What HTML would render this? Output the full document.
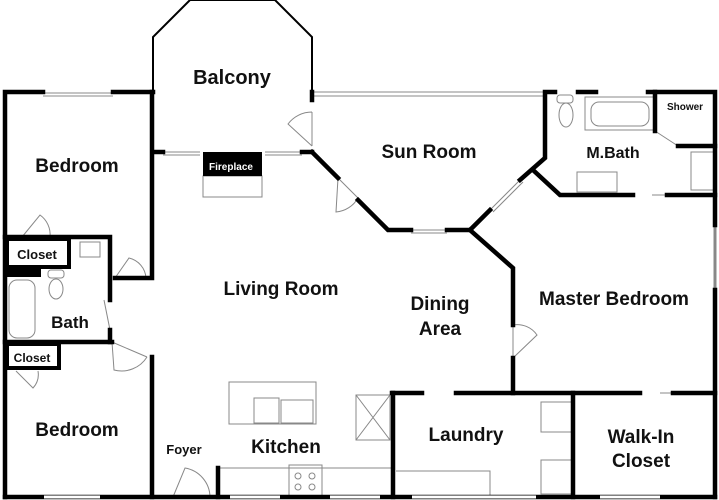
<!DOCTYPE html>
<html><head><meta charset="utf-8"><style>
html,body{margin:0;padding:0;background:#fff;}
svg{display:block;}
text{font-family:"Liberation Sans",sans-serif;font-weight:bold;fill:#111;text-anchor:middle;}
</style></head><body>
<svg width="719" height="500" viewBox="0 0 719 500" xmlns="http://www.w3.org/2000/svg">
<g fill="none" stroke="#888" stroke-width="1">
<!-- balcony -->
<polyline points="153,152 153,37 190,0 275,0 312,37 312,92" stroke="#000" stroke-width="2"/>
<line x1="312" y1="92" x2="545" y2="92"/><line x1="312" y1="96" x2="545" y2="96"/>
<line x1="43" y1="93" x2="113" y2="93"/><line x1="43" y1="96" x2="113" y2="96"/>
<line x1="163" y1="152" x2="200" y2="152"/><line x1="163" y1="155" x2="200" y2="155"/>
<line x1="265" y1="152" x2="302" y2="152"/><line x1="265" y1="155" x2="302" y2="155"/>
<rect x="203" y="176" width="59" height="21"/>
<path d="M312,112 v34 M312,146 L288,124 A30,30 0 0 1 312,112"/>
<path d="M338,178 L358,198 M358,198 A28,28 0 0 1 336,212 L338,178"/>
<line x1="411" y1="230" x2="447" y2="230"/><line x1="411" y1="233" x2="447" y2="233"/>
<line x1="490" y1="210" x2="520" y2="180"/><line x1="493" y1="212" x2="523" y2="182"/>
<line x1="652" y1="195" x2="667" y2="195"/>
<line x1="655" y1="131" x2="678" y2="146"/>
<line x1="715" y1="225" x2="715" y2="290" stroke-width="3"/>
<line x1="660" y1="393" x2="673" y2="393"/>
<path d="M513,325 v33 M513,358 L537,335 A24,24 0 0 0 513,325"/>
<!-- bath fixtures -->
<rect x="9" y="280" width="26" height="58" rx="8"/>
<ellipse cx="56" cy="289" rx="7" ry="10"/><rect x="48" y="270" width="16" height="8" rx="3"/>
<rect x="80" y="242" width="20" height="15"/>
<ellipse cx="566" cy="115" rx="7" ry="12"/><rect x="557" y="95" width="16" height="8" rx="3"/>
<rect x="585" y="97" width="70" height="33"/><rect x="591" y="102" width="58" height="24" rx="8"/>
<rect x="577" y="172" width="40" height="20"/><rect x="691" y="152" width="24" height="38"/>
<!-- doors -->
<path d="M22,237 L40,215 A24,24 0 0 1 50,237"/>
<path d="M115,278 L129,258 A22,22 0 0 1 146,278"/>
<path d="M104,300 L110,330"/>
<path d="M112,342 L147,357 M112,342 L114,370 A30,30 0 0 0 147,357"/>
<path d="M16,371 L33,388 A20,20 0 0 0 38,371"/>
<path d="M173,497 L185,468 A30,30 0 0 1 210,497"/>
<!-- kitchen -->
<rect x="229" y="382" width="87" height="42"/>
<rect x="254" y="398" width="25" height="25"/><rect x="281" y="400" width="32" height="23"/>
<line x1="218" y1="468" x2="393" y2="468"/>
<rect x="289" y="465" width="33" height="32"/>
<circle cx="298" cy="476" r="3"/><circle cx="312" cy="476" r="3"/><circle cx="298" cy="487" r="3"/><circle cx="312" cy="487" r="3"/>
<rect x="356" y="395" width="34" height="45"/><path d="M356,395 L390,440 M390,395 L356,440"/>
<!-- laundry -->
<polyline points="396,471 490,471 490,497"/>
<rect x="541" y="402" width="32" height="30"/><rect x="541" y="460" width="32" height="34"/>
<line x1="412" y1="497" x2="536" y2="497"/>
</g>
<g fill="#000">
<rect x="203" y="152" width="59" height="24"/>
</g>
<g stroke="#000" stroke-width="4.5" fill="none" stroke-linecap="square">
<polyline points="5,497 5,92 43,92"/>
<line x1="113" y1="92" x2="153" y2="92"/>
<polyline points="152,92 152,278 115,278"/>
<line x1="153" y1="152" x2="163" y2="152"/><line x1="302" y1="152" x2="312" y2="152"/>
<line x1="312" y1="92" x2="312" y2="100"/>
<polyline points="312,152 338,178"/>
<polyline points="358,200 388,230 411,230"/>
<polyline points="447,230 470,230 490,210"/>
<polyline points="520,180 545,158 545,92 555,92"/>
<line x1="578" y1="92" x2="596" y2="92"/>
<polyline points="648,92 715,92 715,225"/>
<line x1="715" y1="290" x2="715" y2="497"/>
<line x1="655" y1="92" x2="655" y2="131"/>
<line x1="678" y1="146" x2="715" y2="146"/>
<polyline points="533,170 560,195 633,195"/>
<line x1="667" y1="195" x2="715" y2="195"/>
<polyline points="470,230 513,268 513,325"/>
<line x1="513" y1="358" x2="513" y2="393"/>
<line x1="392" y1="393" x2="422" y2="393"/>
<line x1="456" y1="393" x2="640" y2="393"/>
<line x1="673" y1="393" x2="715" y2="393"/>
<line x1="393" y1="393" x2="393" y2="497"/>
<line x1="573" y1="393" x2="573" y2="497"/>
<line x1="5" y1="497" x2="715" y2="497"/>
<line x1="218" y1="468" x2="218" y2="497"/>
<!-- left bath/closets -->
<polyline points="5,237 110,237 110,300"/>
<line x1="110" y1="330" x2="110" y2="342"/>
<rect x="7" y="239" width="62" height="28" stroke-width="4"/>
<line x1="5" y1="342" x2="112" y2="342"/>
<rect x="7" y="344" width="52" height="24" stroke-width="4"/>
<line x1="152" y1="357" x2="152" y2="497"/>
</g>
<rect x="5" y="267" width="36" height="10" fill="#000"/>
<g stroke="#fff" stroke-width="3">
<line x1="44" y1="497" x2="100" y2="497"/><line x1="230" y1="497" x2="280" y2="497"/><line x1="330" y1="497" x2="380" y2="497"/><line x1="412" y1="497" x2="536" y2="497"/><line x1="600" y1="497" x2="660" y2="497"/>
</g>
<text x="232" y="84" font-size="20">Balcony</text>
<text x="231" y="170" font-size="10" fill="#fff" style="fill:#fff">Fireplace</text>
<text x="77" y="172" font-size="19">Bedroom</text>
<text x="429" y="158" font-size="19">Sun Room</text>
<text x="613" y="158" font-size="16">M.Bath</text>
<text x="685" y="110" font-size="10">Shower</text>
<text x="281" y="295" font-size="19">Living Room</text>
<text x="440" y="310" font-size="19">Dining</text>
<text x="440" y="335" font-size="19">Area</text>
<text x="614" y="305" font-size="19">Master Bedroom</text>
<text x="37" y="259" font-size="13">Closet</text>
<text x="70" y="328" font-size="17">Bath</text>
<text x="32" y="362" font-size="12">Closet</text>
<text x="77" y="436" font-size="19">Bedroom</text>
<text x="184" y="454" font-size="13">Foyer</text>
<text x="286" y="453" font-size="19">Kitchen</text>
<text x="466" y="441" font-size="19">Laundry</text>
<text x="641" y="443" font-size="19">Walk-In</text>
<text x="641" y="467" font-size="19">Closet</text>
</svg>
</body></html>
